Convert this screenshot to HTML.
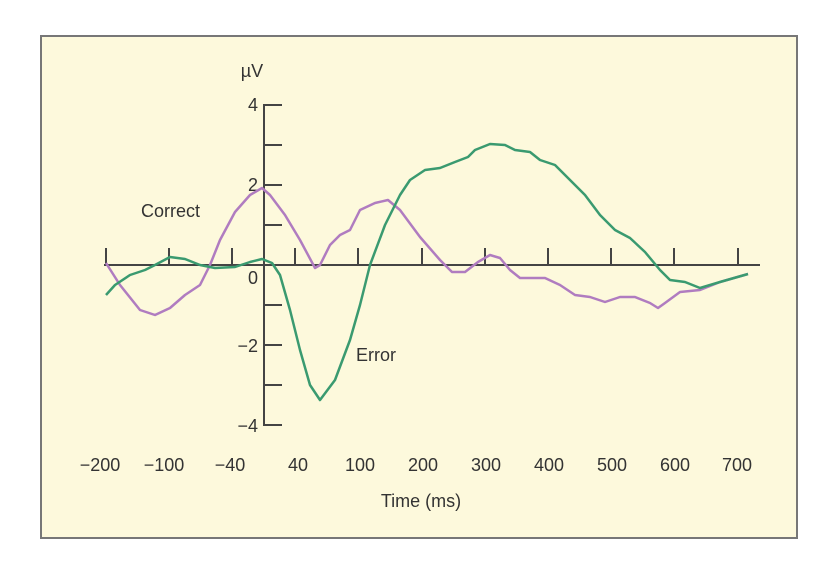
<!DOCTYPE html>
<html><head><meta charset="utf-8"><style>
html,body{margin:0;padding:0;background:#fff;}
svg{display:block;}
text{font-family:"Liberation Sans",sans-serif;fill:#333;}
</style></head><body>
<svg width="838" height="563" viewBox="0 0 838 563">
<rect x="41" y="36" width="756" height="502" fill="#fdf9dc" stroke="#777" stroke-width="2"/>
<g stroke="#444" stroke-width="2" fill="none">
<line x1="104" y1="265" x2="760" y2="265"/>
<line x1="264" y1="104" x2="264" y2="426"/>
<path d="M264 105h18M264 145h18M264 185h18M264 225h18M264 305h18M264 345h18M264 385h18M264 425h18"/>
<path d="M106 265v-17M169 265v-17M232 265v-17M295 265v-17M358 265v-17M422 265v-17M485 265v-17M548 265v-17M611 265v-17M674 265v-17M738 265v-17"/>
</g>
<g font-size="18" text-anchor="end">
<text x="258" y="111">4</text>
<text x="258" y="191">2</text>
<text x="258" y="284">0</text>
<text x="258" y="352">−2</text>
<text x="258" y="432">−4</text>
</g>
<text x="252" y="77" font-size="18" text-anchor="middle">µV</text>
<g font-size="18" text-anchor="middle">
<text x="100" y="471">−200</text><text x="164" y="471">−100</text><text x="230" y="471">−40</text>
<text x="298" y="471">40</text><text x="360" y="471">100</text><text x="423" y="471">200</text>
<text x="486" y="471">300</text><text x="549" y="471">400</text><text x="612" y="471">500</text>
<text x="675" y="471">600</text><text x="737" y="471">700</text>
<text x="421" y="507">Time (ms)</text>
</g>
<text x="141" y="217" font-size="18">Correct</text>
<text x="356" y="361" font-size="18">Error</text>
<polyline fill="none" stroke="#b07cc0" stroke-width="2.5" stroke-linejoin="round" points="106,263 120,285 140,310 155,315 170,308 185,295 200,285 210,265 220,240 235,212 250,195 262,188 270,195 285,215 300,240 315,268 320,265 330,245 340,235 350,230 360,210 375,203 388,200 400,210 420,237 440,260 452,272 465,272 478,262 490,255 500,258 510,270 520,278 545,278 560,285 575,295 590,297 605,302 620,297 635,297 650,303 658,308 665,303 680,292 700,290 720,282 748,274"/>
<polyline fill="none" stroke="#3a9a70" stroke-width="2.5" stroke-linejoin="round" points="106,295 115,285 130,275 145,270 155,265 170,257 185,259 200,265 215,268 235,267 250,262 262,259 272,263 280,275 290,310 300,350 310,385 320,400 335,380 350,340 360,305 370,265 385,225 400,195 410,180 425,170 440,168 455,162 468,157 475,150 490,144 505,145 515,150 530,152 540,160 555,165 565,175 585,195 600,215 615,230 630,238 645,252 660,270 670,280 685,282 700,288 720,282 748,274"/>
</svg>
</body></html>
